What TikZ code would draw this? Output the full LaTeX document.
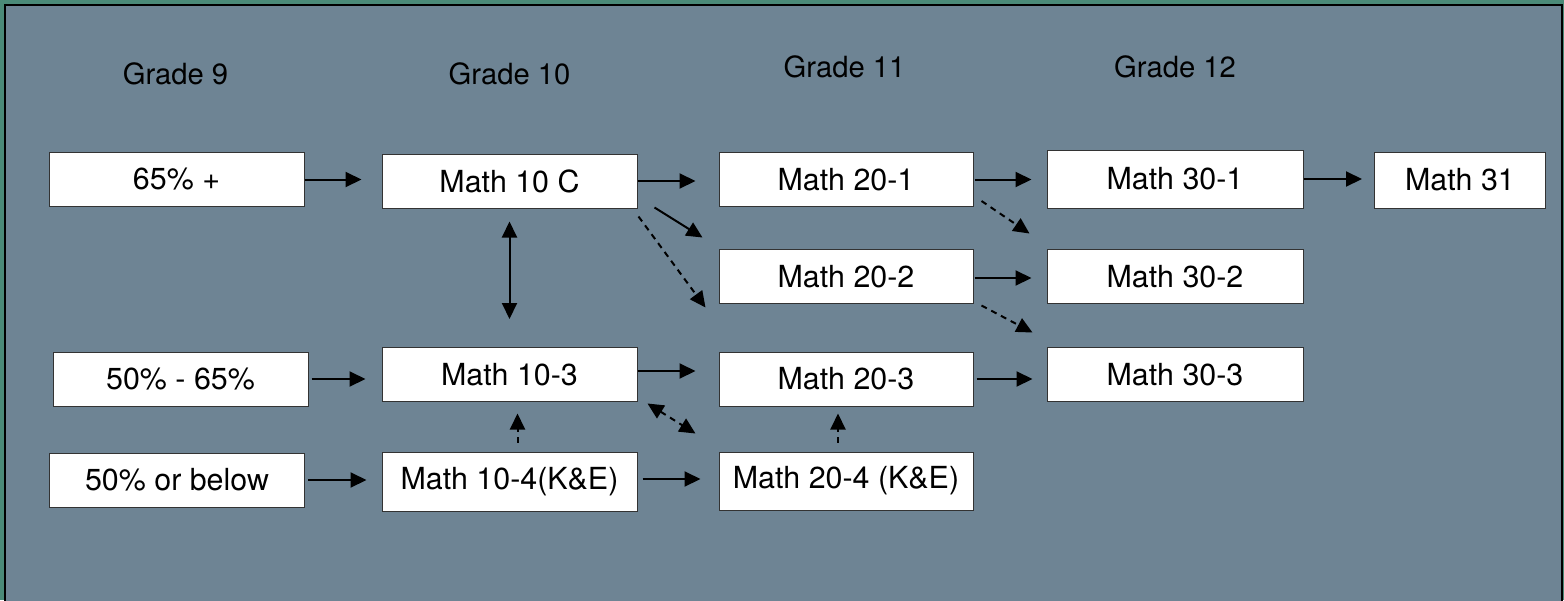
\documentclass[tikz,border=0pt]{standalone}
\usepackage{fontspec}
\setmainfont{TeX Gyre Heros}
\usepackage{tikz}
\usetikzlibrary{arrows.meta,calc}
\definecolor{framegreen}{HTML}{4B8A78}
\definecolor{slate}{HTML}{6E8494}

\begin{document}
\begin{tikzpicture}[x=0.5pt,y=-0.5pt,
    >={Triangle[length=8pt,width=7.5pt]},
    box/.style={draw=black!80,line width=0.5pt,fill=white,inner sep=0pt,
      minimum width=127.5pt,minimum height=27pt,font=\fontsize{15.2}{17}\selectfont},
    grade/.style={font=\fontsize{14.6}{17}\selectfont},
    link/.style={->,line width=1pt},
    maybe/.style={link,dash pattern=on 3pt off 2.5pt}]
        \useasboundingbox (0,0) rectangle (1564,600);
        \fill[framegreen] (0,0) rectangle (1564,600);
        \filldraw[fill=slate,draw=black,line width=0.6pt] (5,5) rectangle (1562,620);

        \foreach \g/\x/\y in {9/175.5/74,10/509.5/74,11/844.5/67,12/1175/67}{
          \node[grade] (grade-\g) at (\x,\y) {Grade \g};
        }

        \node[box] (s65) at (176.5,179.5) {65\% +};
        \node[box] (s50) at (180.5,379) {50\% - 65\%};
        \node[box] (slow) at (177,480) {50\% or below};

        \node[box] (m10c) at (509.5,181) {Math 10 C};
        \node[box] (m103) at (509.5,374.5) {Math 10-3};
        \node[box,minimum height=29.5pt] (m104) at (509.5,481.5) {Math 10-4(K\&E)};

        \node[box,minimum width=127pt] (m201) at (846,179.5) {Math 20-1};
        \node[box,minimum width=127pt] (m202) at (846,276.5) {Math 20-2};
        \node[box,minimum width=127pt] (m203) at (846,379) {Math 20-3};
        \node[box,minimum width=127pt,minimum height=29pt] (m204) at (846,481) {Math 20-4 (K\&E)};

        \node[box,minimum width=128pt,minimum height=29pt] (m301) at (1175,179) {Math 30-1};
        \node[box,minimum width=128pt] (m302) at (1175,276.5) {Math 30-2};
        \node[box,minimum width=128pt] (m303) at (1175,374.5) {Math 30-3};
        \node[box,minimum width=85.5pt,minimum height=28pt] (m31) at (1460,180) {Math 31};

        \draw[link,shorten >=10pt] (s65) -- (s65 -| m10c.west);
        \draw[link,shorten <=1.5pt,shorten >=8pt] (s50) -- (s50 -| m103.west);
        \draw[link,shorten <=1.5pt,shorten >=7.5pt] (slow) -- (slow -| m104.west);

        \draw[link,shorten >=11.5pt] (m10c) -- (m10c -| m201.west);
        \draw[link,shorten >=11.5pt] ($(m103.east)+(0,-3.5)$) -- ($(m203.west)+(0,-8)$);
        \draw[link,shorten <=2.5pt,shorten >=9pt] ($(m104.east)+(0,-2.5)$) -- ($(m204.west)+(0,-2)$);

        \draw[link,shorten <=0.5pt,shorten >=7.5pt] (m201) -- (m201 -| m301.west);
        \draw[link,shorten <=0.5pt,shorten >=7.5pt] ($(m202.east)+(0,1.5)$) -- ($(m302.west)+(0,1.5)$);
        \draw[link,shorten <=1.5pt,shorten >=7pt] (m203) -- (m203 -| m303.west);
        \draw[link,shorten >=6pt] (m301) -- (m301 -| m31.west);

        \draw[link,<->,shorten <=6.5pt,shorten >=14pt] (m10c.south) -- (m103.north);
        \draw[maybe] ($(m104.north)+(8,-9)$) -- ($(m103.south)+(8,11.5)$);
        \draw[maybe] ($(m204.north)+(-8,-9)$) -- ($(m203.south)+(-8,7)$);
        \draw[maybe,<->] ($(m103.south east)+(10,1.5)$) -- ($(m204.north west)+(-23,-18)$);

        \draw[link] ($(m10c.south east)+(17,-1)$) -- ($(m202.north west)+(-16,-11.5)$);
        \draw[maybe] ($(m10c.south east)+(1,8)$) -- ($(m203.north west)+(-13,-44)$);
        \draw[maybe] ($(m201.south east)+(8,-6)$) -- ($(m302.north west)+(-17,-15.5)$);
        \draw[maybe] ($(m202.south east)+(8,1.5)$) -- ($(m303.north west)+(-14,-14.5)$);
      \end{tikzpicture}
\end{document}
